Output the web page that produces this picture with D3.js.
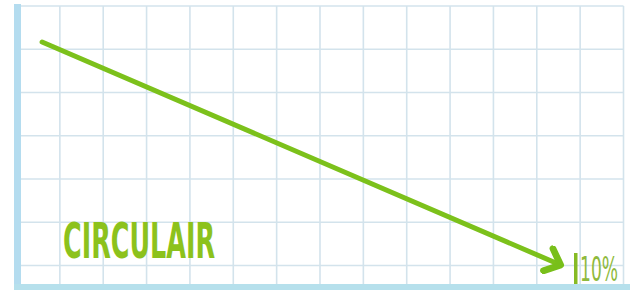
<!DOCTYPE html>
<html>
<head>
<meta charset="utf-8">
<script src="https://cdn.jsdelivr.net/npm/d3@7"></script>
<style>
  html, body { margin: 0; padding: 0; background: #fff; }
  svg { display: block; }
</style>
</head>
<body>
<div id="chart"></div>
<script>
// grid cells (columns / rows) of the squared paper
const gridCols = d3.range(1, 15);
const gridRows = d3.range(0, 7);

// trend: step along x (in grid cells) and share in %
const trendX = [0.59, 12.55];
const trendPct = [100, 10];

const labelText = "CIRCULAIR";
const endLabel = "10%";

const width = 630, height = 290;

const svg = d3.select("#chart").append("svg")
    .attr("width", width)
    .attr("height", height);

// scales
const x = d3.scaleLinear().domain([0, 14]).range([16.5, 623.5]);
const yGrid = d3.scaleLinear().domain([0, 6]).range([265.5, 6]);
const y = d3.scaleLinear().domain([10, 100]).range([265, 42]);

// grid
svg.append("g").selectAll("line")
    .data(gridCols)
    .enter().append("line")
    .attr("x1", d => x(d)).attr("x2", d => x(d))
    .attr("y1", yGrid(6)).attr("y2", 285)
    .attr("stroke", "#d3e3ec")
    .attr("stroke-width", 1.6);

svg.append("g").selectAll("line")
    .data(gridRows)
    .enter().append("line")
    .attr("x1", x(0)).attr("x2", x(14))
    .attr("y1", d => yGrid(d)).attr("y2", d => yGrid(d))
    .attr("stroke", "#d3e3ec")
    .attr("stroke-width", 1.6);

// axis bars
svg.append("rect")
    .attr("x", 14).attr("y", 4)
    .attr("width", 7).attr("height", 286)
    .attr("fill", "#b4dcef");
svg.append("rect")
    .attr("x", 14).attr("y", 284)
    .attr("width", 616).attr("height", 6)
    .attr("fill", "#b6e0ec");

// arrow marker
let defs = svg.append("defs");
defs.append("marker")
    .attr("id", "arrow")
    .attr("viewBox", "-12 -10 14 20")
    .attr("refX", 0)
    .attr("refY", 0)
    .attr("markerUnits", "userSpaceOnUse")
    .attr("markerWidth", 24)
    .attr("markerHeight", 30)
    .attr("orient", "auto")
    .append("path")
    .attr("d", "M-9,-8L0,0L-9,8")
    .attr("fill", "none")
    .attr("stroke", "#78bf1a")
    .attr("stroke-width", 4.5)
    .attr("stroke-linecap", "round")
    .attr("stroke-linejoin", "round");

const trend = trendX.map((v, i) => ({x: v, pct: trendPct[i]}));

svg.append("path")
    .datum(trend)
    .attr("d", d3.line().x(d => x(d.x)).y(d => y(d.pct)))
    .attr("stroke", "#7cc11b")
    .attr("stroke-width", 5)
    .attr("stroke-linecap", "round")
    .attr("fill", "none")
    .style("marker-end", "url(#arrow)");

// end marker bar + label
svg.append("rect")
    .attr("x", 574).attr("y", 253)
    .attr("width", 3.5).attr("height", 31)
    .attr("fill", "#86bb24");

svg.append("text")
    .attr("x", 580).attr("y", 281)
    .attr("font-family", "'DejaVu Sans', sans-serif")
    .attr("font-stretch", "condensed")
    .attr("font-size", 34)
    .attr("fill", "#8fba3c")
    .attr("textLength", 38)
    .attr("lengthAdjust", "spacingAndGlyphs")
    .text(endLabel);

svg.append("text")
    .attr("x", 63).attr("y", 258)
    .attr("font-family", "'DejaVu Sans', sans-serif")
    .attr("font-stretch", "condensed")
    .attr("font-size", 49)
    .attr("font-weight", "bold")
    .attr("fill", "#8cc21c")
    .attr("textLength", 152)
    .attr("lengthAdjust", "spacingAndGlyphs")
    .text(labelText);
</script>
</body>
</html>
